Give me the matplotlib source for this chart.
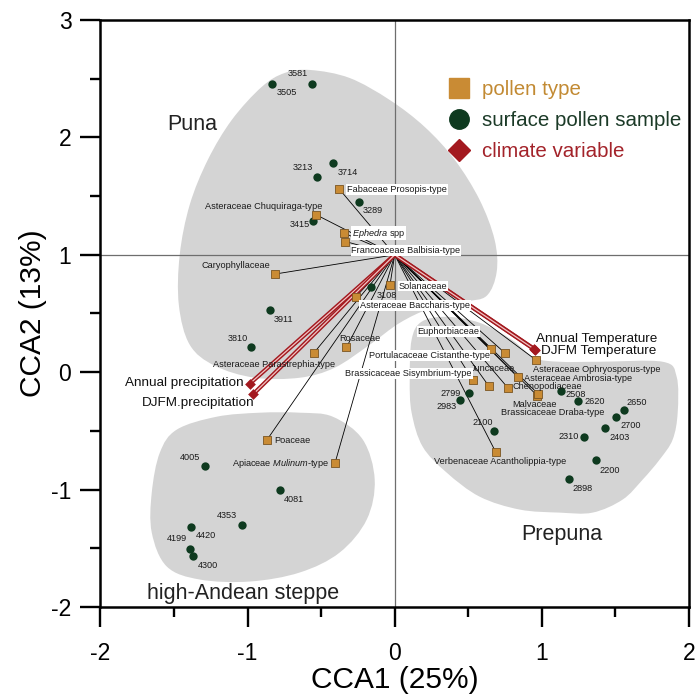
import numpy as np
import matplotlib
matplotlib.use('Agg')
import matplotlib.pyplot as plt
from matplotlib.path import Path
from matplotlib.patches import PathPatch
from matplotlib.lines import Line2D

plt.rcParams['font.family'] = ['Liberation Sans', 'DejaVu Sans']
plt.rcParams['mathtext.fontset'] = 'custom'
plt.rcParams['mathtext.rm'] = 'Liberation Sans'
plt.rcParams['mathtext.it'] = 'Liberation Sans:italic'
plt.rcParams['axes.unicode_minus'] = False

# ---- podatki (CCA rezultati, odčitani s slike) ----
izvor = (0.0, 1.0)      # točka, iz katere gredo vse črte

vzorci = ['3581', '3505', '3213', '3714', '3289', '3415', '3911', '3810', '3108',
          '2799', '2983', '2100', '2508', '2620', '2650', '2700', '2403', '2310',
          '2200', '2898', '4005', '4081', '4353', '4420', '4199', '4300']
vzorci_x = [-0.559, -0.831, -0.525, -0.416, -0.245, -0.552, -0.849, -0.974, -0.158,
            0.503, 0.446, 0.675, 1.130, 1.248, 1.558, 1.506, 1.431, 1.289,
            1.368, 1.184, -1.286, -0.779, -1.039, -1.386, -1.388, -1.368]
vzorci_y = [2.458, 2.458, 1.664, 1.783, 1.454, 1.289, 0.534, 0.217, 0.728,
            -0.180, -0.234, -0.504, -0.157, -0.249, -0.319, -0.379, -0.472, -0.549,
            -0.751, -0.909, -0.802, -1.000, -1.298, -1.317, -1.505, -1.568]

pelod = ['Fabaceae Prosopis-type', 'Asteraceae Chuquiraga-type', '$\\mathit{Ephedra}$ spp',
         'Francoaceae Balbisia-type', 'Caryophyllaceae', 'Solanaceae',
         'Asteraceae Baccharis-type', 'Rosaceae', 'Asteraceae Parastrephia-type',
         'Poaceae', 'Apiaceae $\\mathit{Mulinum}$-type', 'Euphorbiaceae',
         'Portulacaceae Cistanthe-type', 'Juncaceae', 'Brassicaceae Sisymbrium-type',
         'Asteraceae Ophryosporus-type', 'Asteraceae Ambrosia-type', 'Chenopodiaceae',
         'Malvaceae', 'Brassicaceae Draba-type', 'Verbenaceae Acantholippia-type']
pelod_x = [-0.378, -0.532, -0.344, -0.335, -0.813, -0.032, -0.263, -0.328, -0.550,
           -0.870, -0.406, 0.652, 0.747, 0.639, 0.532, 0.958, 0.838, 0.768,
           0.969, 0.975, 0.686]
pelod_y = [1.562, 1.340, 1.185, 1.113, 0.836, 0.742, 0.643, 0.211, 0.163,
           -0.580, -0.775, 0.200, 0.166, -0.117, -0.070, 0.106, -0.044, -0.132,
           -0.200, -0.185, -0.679]

klima = ['Annual Temperature', 'DJFM Temperature', 'Annual precipitation', 'DJFM.precipitation']
klima_x = [0.946, 0.955, -0.985, -0.963]
klima_y = [0.200, 0.190, -0.098, -0.189]

# obrisi skupin (sivi oblaki)
puna_x = [-0.571, -0.306, -0.034, 0.204, 0.408, 0.577, 0.679, 0.693, 0.625, 0.476,
          0.238, 0.034, -0.170, -0.408, -0.645, -0.951, -1.223, -1.393, -1.467,
          -1.461, -1.393, -1.270, -1.107, -0.904, -0.747]
puna_y = [2.574, 2.506, 2.319, 2.089, 1.809, 1.468, 1.128, 0.855, 0.651, 0.600,
          0.540, 0.420, 0.234, 0.038, -0.047, -0.047, 0.055, 0.234, 0.574,
          1.000, 1.426, 1.809, 2.149, 2.430, 2.549]
prepuna_x = [0.115, 0.183, 0.353, 0.577, 0.795, 0.951, 1.121, 1.393, 1.821, 1.916,
             1.923, 1.889, 1.800, 1.685, 1.549, 1.345, 1.121, 0.849, 0.577, 0.353,
             0.190, 0.115, 0.102]
prepuna_y = [0.277, 0.430, 0.472, 0.421, 0.277, 0.123, 0.089, 0.089, 0.089, -0.038,
             -0.345, -0.574, -0.745, -0.915, -1.085, -1.196, -1.196, -1.170, -1.060, -0.855,
             -0.634, -0.345, -0.064]
andi_x = [-0.917, -0.645, -0.421, -0.217, -0.136, -0.190, -0.374, -0.645, -0.985,
          -1.325, -1.549, -1.651, -1.651, -1.596, -1.481, -1.209]
andi_y = [-0.345, -0.345, -0.379, -0.574, -0.915, -1.255, -1.536, -1.706, -1.783,
          -1.766, -1.655, -1.366, -1.026, -0.685, -0.489, -0.379]

skupine = ['Puna', 'Prepuna', 'high-Andean steppe']
skupine_x = [-1.379, 1.135, -1.033]
skupine_y = [2.064, -1.426, -1.936]

# ---- postavitev napisov (odmik v pikslih, poravnava) ----
odmik_vzorci = {
    '3581': (-15, 10), '3505': (14, -9), '3213': (-15, 9), '3714': (14, -10),
    '3289': (14, -9), '3415': (-14, -4), '3911': (14, -10), '3810': (-14, 8),
    '3108': (15, -9), '2799': (-18, 0), '2983': (-14, -7), '2100': (-11, 9),
    '2508': (15, -4), '2620': (16, 0), '2650': (13, 7), '2700': (14, -9),
    '2403': (14, -10), '2310': (-16, 0), '2200': (14, -10), '2898': (14, -10),
    '4005': (-15, 9), '4081': (14, -10), '4353': (-15, 9), '4420': (15, -9),
    '4199': (-14, 10), '4300': (15, -9),
}
odmik_pelod = [(8, -1, 'left', True), (6, 8, 'right', False), (8, 0, 'left', True),
               (6, -9, 'left', True), (-5, 9, 'right', False), (9, -1, 'left', True),
               (4, -9, 'left', True), (-7, 9, 'left', False), (-40, -11, 'center', False),
               (8, 0, 'left', False), (-6, 0, 'right', False), (-11, 17, 'right', True),
               (-15, -3, 'right', True), (-18, 17, 'left', False), (-1, 7, 'right', True),
               (-3, -10, 'left', False), (6, -1, 'left', False), (5, 1, 'left', False),
               (-3, -9, 'center', False), (15, -19, 'center', False), (4, -10, 'center', False)]
odmik_klima = [(2, 10, 'left'), (6, -1, 'left'), (-6, 1, 'right'), (2, -9, 'right')]

c_pelod = '#C98B34'
c_pelod_rob = '#7A5522'
c_vzorec = '#0E3A1F'
c_klima = '#A3191F'
c_siva = '#D4D4D4'


def gladka_pot(xs, ys):
    '''Zaprta gladka krivulja skozi dane točke (Catmull-Rom -> Bezier)'''
    p = np.column_stack([xs, ys])
    n = len(p)
    verts = [p[0]]
    codes = [Path.MOVETO]
    for i in range(n):
        p0, p1, p2, p3 = p[i - 1], p[i], p[(i + 1) % n], p[(i + 2) % n]
        verts += [p1 + (p2 - p0) / 6, p2 - (p3 - p1) / 6, p2]
        codes += [Path.CURVE4] * 3
    return Path(verts, codes)


fig = plt.figure(figsize=(6.97, 7.0), dpi=100)
ax = fig.add_axes([100.4 / 697, 1 - 607 / 700, 588.6 / 697, 587 / 700])
ax.set_xlim(-2, 2)
ax.set_ylim(-2, 3)

for ox, oy in [(puna_x, puna_y), (prepuna_x, prepuna_y), (andi_x, andi_y)]:
    ax.add_patch(PathPatch(gladka_pot(ox, oy), facecolor=c_siva, edgecolor='none', zorder=0))

ax.axvline(0, color='#6E6E6E', lw=0.9, zorder=1)
ax.axhline(1, color='#6E6E6E', lw=0.9, zorder=1)

# črte do peloda
for x, y in zip(pelod_x, pelod_y):
    ax.plot([izvor[0], x], [izvor[1], y], color='black', lw=0.6, zorder=2)
# črte do klimatskih spremenljivk
for x, y in zip(klima_x, klima_y):
    ax.plot([izvor[0], x], [izvor[1], y], color=c_klima, lw=3.0, zorder=3, solid_capstyle='butt')
    ax.plot([izvor[0], x], [izvor[1], y], color='#F2C4C4', lw=0.9, zorder=3, solid_capstyle='butt')

ax.scatter(vzorci_x, vzorci_y, s=36, marker='o', color=c_vzorec, zorder=4, linewidths=0)
ax.scatter(pelod_x, pelod_y, s=40, marker='s', facecolor=c_pelod, edgecolor=c_pelod_rob,
           linewidths=0.6, zorder=4)
ax.scatter(klima_x, klima_y, s=30, marker='D', color=c_klima, zorder=5, linewidths=0)

for ime, x, y in zip(vzorci, vzorci_x, vzorci_y):
    dx, dy = odmik_vzorci[ime]
    ax.annotate(ime, (x, y), xytext=(dx, dy), textcoords='offset pixels',
                ha='center', va='center', fontsize=6.6, color='#1A1A1A', zorder=6)

for ime, x, y, (dx, dy, ha, okvir) in zip(pelod, pelod_x, pelod_y, odmik_pelod):
    bb = dict(facecolor='white', edgecolor='none', pad=0.6) if okvir else None
    ax.annotate(ime, (x, y), xytext=(dx, dy), textcoords='offset pixels',
                ha=ha, va='center', fontsize=6.6, color='#1A1A1A', bbox=bb, zorder=6)

for ime, x, y, (dx, dy, ha) in zip(klima, klima_x, klima_y, odmik_klima):
    ax.annotate(ime, (x, y), xytext=(dx, dy), textcoords='offset pixels',
                ha=ha, va='center', fontsize=9.7, color='#111111', zorder=6)

for ime, x, y in zip(skupine, skupine_x, skupine_y):
    ax.text(x, y, ime, ha='center', va='baseline', fontsize=15.5, color='#222222', zorder=6)

# legenda
roc = [Line2D([], [], ls='none', marker='s', ms=14, mfc=c_pelod, mec=c_pelod),
       Line2D([], [], ls='none', marker='o', ms=14, mfc=c_vzorec, mec=c_vzorec),
       Line2D([], [], ls='none', marker='D', ms=11, mfc=c_klima, mec=c_klima)]
leg = ax.legend(roc, ['pollen type', 'surface pollen sample', 'climate variable'],
                loc='upper left', bbox_to_anchor=(0.592, 0.898), frameon=False,
                fontsize=14.8, borderpad=0, borderaxespad=0, handlelength=1.0,
                handletextpad=0.6, labelspacing=0.58)
for t, c in zip(leg.get_texts(), ['#C28A33', '#1B3A27', '#A3232A']):
    t.set_color(c)

ax.set_xticks([-2, -1, 0, 1, 2])
ax.set_yticks([-2, -1, 0, 1, 2, 3])
ax.set_xticks(np.arange(-1.5, 2, 1), minor=True)
ax.set_yticks(np.arange(-1.5, 3, 1), minor=True)
ax.tick_params(which='major', direction='out', length=14.4, width=1.7, labelsize=16.5)
ax.tick_params(which='minor', direction='out', length=7.2, width=1.7)
ax.tick_params(axis='x', which='major', pad=10.5)
ax.tick_params(axis='y', which='major', pad=6.5)
for s in ax.spines.values():
    s.set_linewidth(1.8)

ax.set_xlabel('CCA1 (25%)', fontsize=21.5, labelpad=1)
ax.set_ylabel('CCA2 (13%)', fontsize=21.5, labelpad=3)

plt.savefig('out.png', dpi=100)
